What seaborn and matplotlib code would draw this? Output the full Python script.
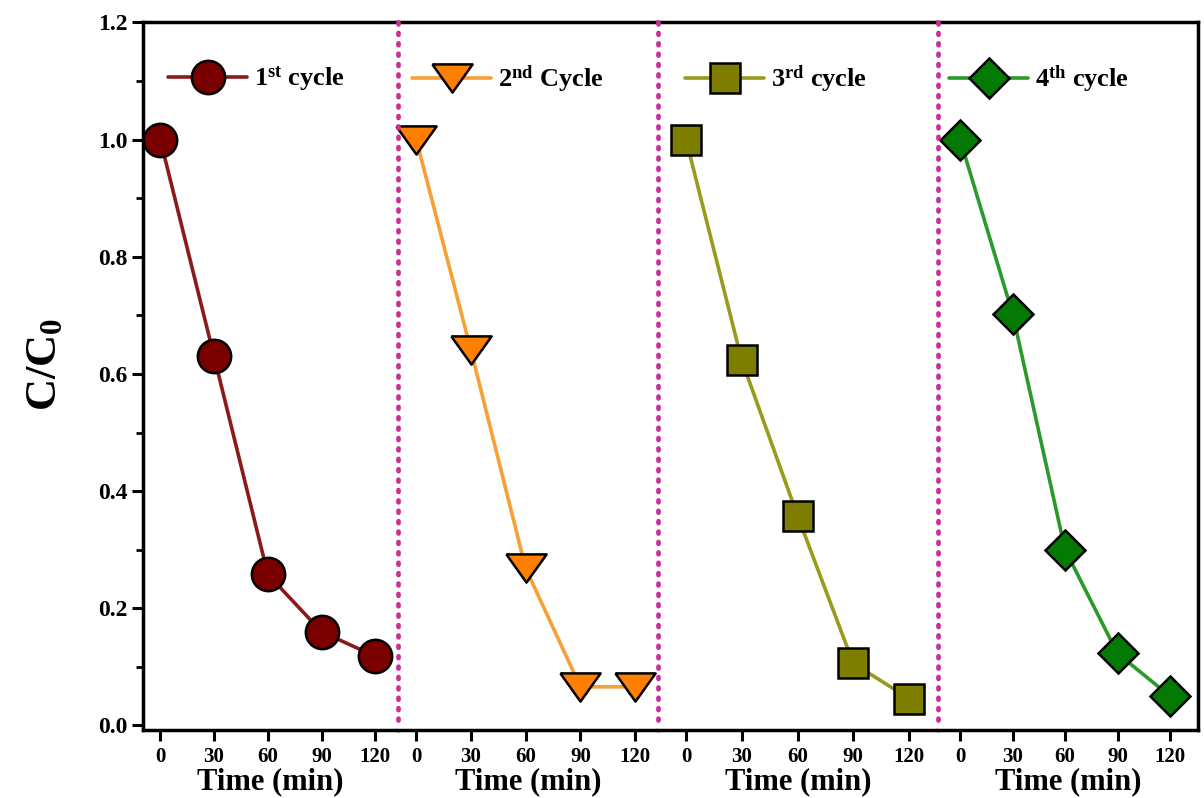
import numpy as np
import pandas as pd
import seaborn as sns
import matplotlib.pyplot as plt
from matplotlib.ticker import MultipleLocator, FormatStrFormatter

# data
time_min = [0, 30, 60, 90, 120]
cycle1 = [1.00, 0.63, 0.258, 0.16, 0.118]
cycle2 = [1.00, 0.64, 0.268, 0.066, 0.066]
cycle3 = [1.00, 0.623, 0.358, 0.106, 0.046]
cycle4 = [1.00, 0.703, 0.30, 0.123, 0.05]
labels = [r'1$^{\mathbf{st}}$ cycle', r'2$^{\mathbf{nd}}$ Cycle',
          r'3$^{\mathbf{rd}}$ cycle', r'4$^{\mathbf{th}}$ cycle']

sns.set_style('ticks')
plt.rcParams['font.family'] = ['Liberation Serif', 'DejaVu Serif']
plt.rcParams['font.weight'] = 'bold'
plt.rcParams['mathtext.fontset'] = 'custom'
plt.rcParams['mathtext.rm'] = 'Liberation Serif:bold'
plt.rcParams['mathtext.bf'] = 'Liberation Serif:bold'
plt.rcParams['mathtext.it'] = 'Liberation Serif:bold'
plt.rcParams['axes.edgecolor'] = 'black'
plt.rcParams['axes.labelcolor'] = 'black'
plt.rcParams['xtick.color'] = 'black'
plt.rcParams['ytick.color'] = 'black'
plt.rcParams['text.color'] = 'black'

tri_down = [(-1, 0.7), (1, 0.7), (0, -0.7), (-1, 0.7)]
styles = [
    dict(marker='o', ms=24, mfc='#7a0000', color='#8b1a1a'),
    dict(marker=tri_down, ms=29, mfc='#ff8000', color='#f7a035'),
    dict(marker='s', ms=22, mfc='#7d7d00', color='#9a9a1c'),
    dict(marker='D', ms=20, mfc='#047a04', color='#2a9a2a'),
]
xlims = [(-9.5, 132.8), (-9.9, 132.6), (-15, 135.6), (-12.6, 136)]
leg_x = [0.098, 0.054, 0.096, 0.042]

fig, axs = plt.subplots(1, 4, figsize=(12.04, 7.98), dpi=100, sharey=True,
                        gridspec_kw=dict(width_ratios=[255, 260, 280, 260], wspace=0))
fig.subplots_adjust(left=0.119, right=0.995, top=0.972, bottom=0.085)

for i, (ax, vals) in enumerate(zip(axs, [cycle1, cycle2, cycle3, cycle4])):
    df = pd.DataFrame({'t': time_min, 'c': vals})
    st = styles[i]
    sns.lineplot(data=df, x='t', y='c', ax=ax, marker=st['marker'], ms=st['ms'],
                 markerfacecolor=st['mfc'], mec='black', mew=1.8, color=st['color'],
                 lw=2.6, label=labels[i], clip_on=False, zorder=3)
    ax.set_xlim(*xlims[i])
    ax.set_ylim(-0.008, 1.2)
    ax.set_xticks(time_min)
    ax.tick_params(axis='x', labelsize=15, width=2.2, length=8, direction='out', pad=4)
    ax.set_xlabel('Time (min)', fontsize=22, fontweight='bold', labelpad=0)
    ax.set_ylabel('')
    for sp in ax.spines.values():
        sp.set_linewidth(2.5)
    if i > 0:
        ax.spines['left'].set_visible(False)
        ax.tick_params(axis='y', which='both', left=False)
        ax.axvline(xlims[i][0], ymin=0.015, ymax=1, color='#cc2d99', lw=3.4,
                   ls=(0, (0.4, 1.8)), dash_capstyle='round', clip_on=False, zorder=4)
    if i < 3:
        ax.spines['right'].set_visible(False)
    leg = ax.legend(loc='center left', bbox_to_anchor=(leg_x[i], 0.92), frameon=False,
                    fontsize=19, handlelength=3.0, handletextpad=0.25,
                    borderpad=0, borderaxespad=0)
    for t in leg.get_texts():
        t.set_fontweight('bold')

ax0 = axs[0]
ax0.yaxis.set_major_locator(MultipleLocator(0.2))
ax0.yaxis.set_minor_locator(MultipleLocator(0.1))
ax0.yaxis.set_major_formatter(FormatStrFormatter('%.1f'))
ax0.tick_params(axis='y', which='major', labelsize=17, width=2.2, length=8, pad=3)
ax0.tick_params(axis='y', which='minor', width=2.0, length=5)

fig.text(0.037, 0.543, r'C/C$_\mathbf{0}$', rotation=90, fontsize=32,
         fontweight='bold', ha='center', va='center')

fig.savefig('out.png', dpi=100)
